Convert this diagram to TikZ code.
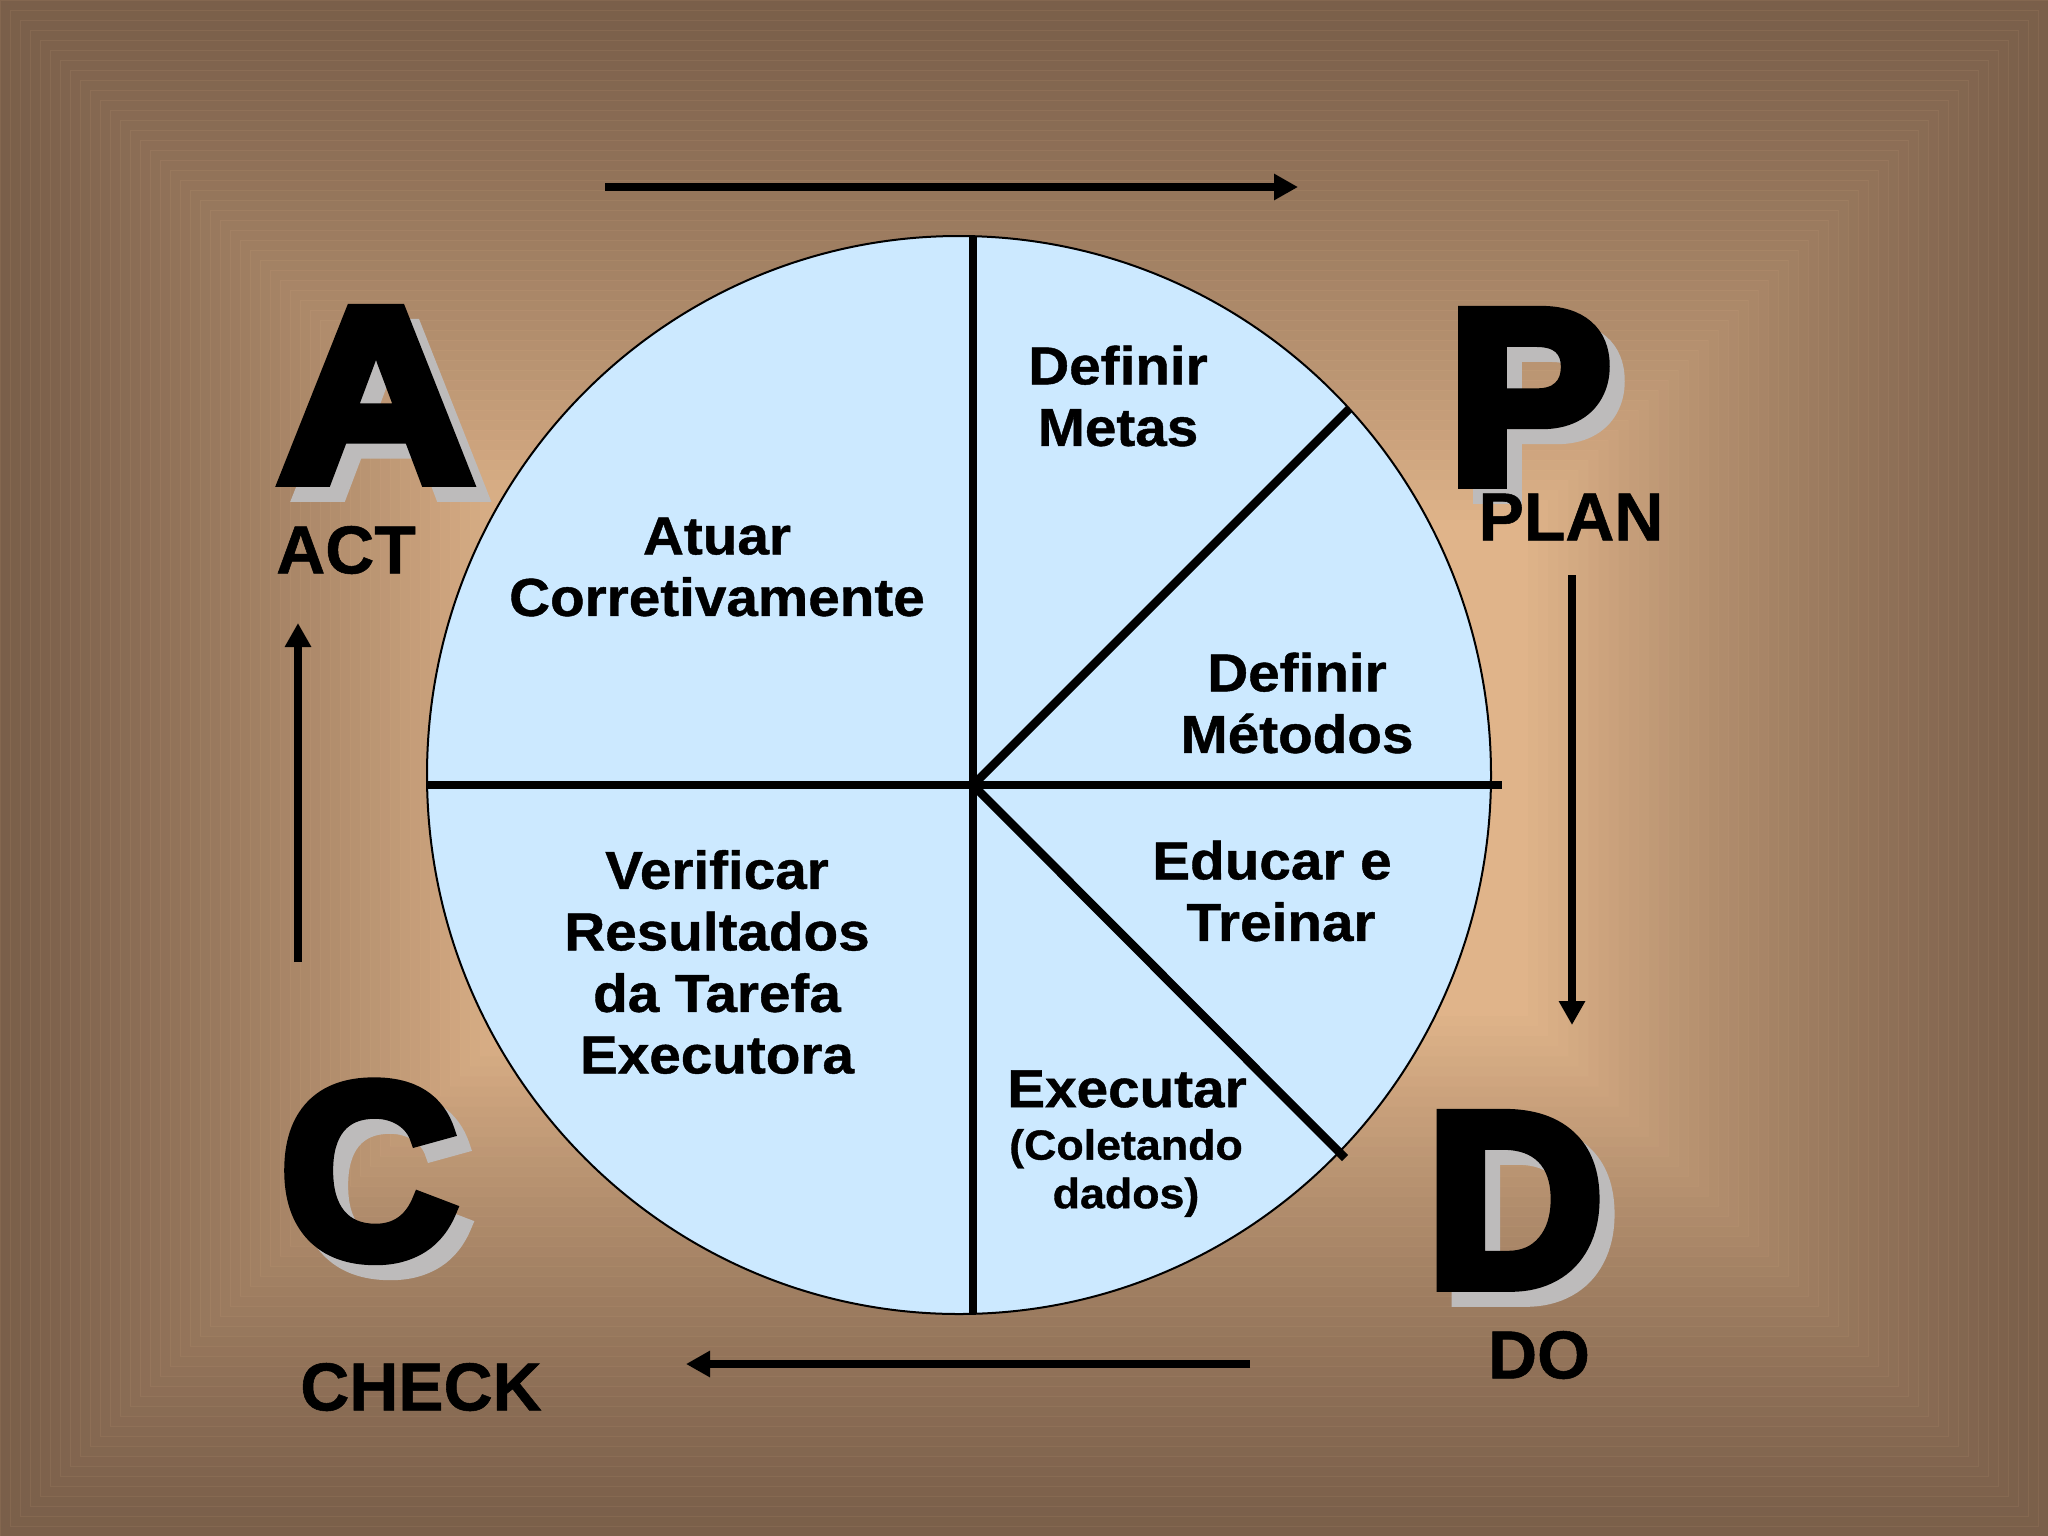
\documentclass[tikz,border=0pt]{standalone}
\usepackage{fontspec}
\setmainfont{Liberation Sans}
\newfontfamily\heavyfont[FakeBold=5.5,FakeStretch=.99]{Liberation Sans Bold}
\newfontfamily\stagefont[FakeBold=.8,FakeStretch=1.06]{Liberation Sans Bold}
\newfontfamily\phasefont[FakeBold=.8]{Liberation Sans Bold}
\usetikzlibrary{arrows.meta}
\definecolor{bgDark}{HTML}{7A5F4A}
\definecolor{bgLight}{HTML}{E0B48A}
\definecolor{discFill}{HTML}{CCE9FF}
\definecolor{letterShade}{HTML}{BDBBBB}
\tikzset{
	spoke/.style={line width=.085cm},
	flow/.style={->,line width=.075cm},
	stagetext/.style={font=\stagefont\fontsize{15.2}{17.5}\selectfont,align=center,inner sep=0pt},
	smalltext/.style={font=\stagefont\fontsize{12}{13.8}\selectfont,align=center,inner sep=0pt},
	phasetext/.style={font=\phasefont\fontsize{19.3}{22}\selectfont,inner sep=0pt},
	bigletter/.style={font=\heavyfont\fontsize{70}{70}\selectfont,anchor=base,inner sep=0pt},
}
\begin{document}
\begin{tikzpicture}[x=.01cm,y=-.01cm,>={Triangle[length=.24cm,width=.25cm]},line join=miter]
	\useasboundingbox (0,0) rectangle (2048,1536);
	% background bands
	\foreach \i [evaluate=\i as \mix using {100*(\i/52)^1.3}] in {0,...,52}{
		\fill[bgLight!\mix!bgDark] (\i*10,\i*10) rectangle (2048-\i*10,1536-\i*10);
		\draw[bgLight,opacity=.1,line width=.01cm] (\i*10,\i*10) rectangle (2048-\i*10,1536-\i*10);
		}
	\path (959,775)coordinate (Disc)
	(973,785)coordinate (Hub)
	(973,236)coordinate (Top)
	(973,1314)coordinate (Bottom)
	(427,785)coordinate (Left)
	(1502,785)coordinate (Right)
	(1349,409)coordinate (Upper)
	(1345,1158)coordinate (Lower)
	(605,187)coordinate (PlanFrom)
	(1298,187)coordinate (PlanTo)
	(1572,575)coordinate (DoFrom)
	(1572,1025)coordinate (DoTo)
	(1250,1364)coordinate (CheckFrom)
	(686,1364)coordinate (CheckTo)
	(298,962)coordinate (ActFrom)
	(298,623)coordinate (ActTo);
	\draw[fill=discFill,line width=.02cm] (Disc) ellipse [x radius=532,y radius=539];
	\foreach \x in {Top,Bottom,Left,Right,Upper,Lower}{
		\draw[spoke] (Hub)--(\x);
		}
	\foreach \x in {Plan,Do,Check,Act}{
		\draw[flow] (\x From)--(\x To);
		}
	% large letters with their shadow
	\foreach \n/\x/\y/\w in {A/376/480/1.1,P/1530/482/1,D/1515/1285/1,C/369/1256/1}{
		\node[bigletter,letterShade] (shade\n) at (\x+15,\y+15) {\scalebox{\w}[1]{\n}};
		\node[bigletter] (letter\n) at (\x,\y) {\scalebox{\w}[1]{\n}};
		}
	\node[phasetext] (act) at (346,550) {ACT};
	\node[phasetext] (plan) at (1571,517) {PLAN};
	\node[phasetext] (do) at (1539,1355) {DO};
	\node[phasetext] (check) at (421,1387) {CHECK};
	\node[stagetext] (metas) at (1118,396) {Definir\\Metas};
	\node[stagetext] (metodos) at (1297,703) {Definir\\Métodos};
	\node[stagetext] (educar) at (1281,891) {Educar e\hspace*{.18cm}\\Treinar};
	\node[stagetext] (executar) at (1127,1089) {Executar};
	\node[smalltext] (coletando) at (1126,1173) {(Coletando\\dados)};
	\node[stagetext] (atuar) at (717,567) {Atuar\\Corretivamente};
	\node[stagetext] (verificar) at (717,962) {Verificar\\Resultados\\da Tarefa\\Executora};
\end{tikzpicture}
\end{document}
